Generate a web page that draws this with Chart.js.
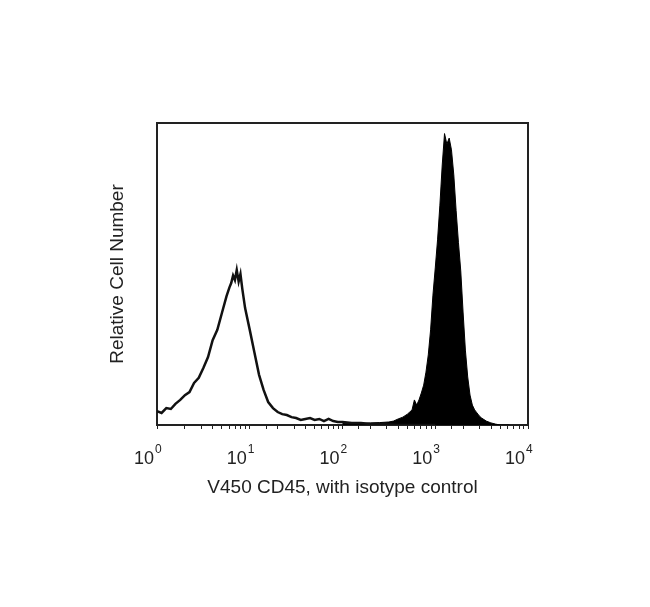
<!DOCTYPE html>
<html>
<head>
<meta charset="utf-8">
<script src="https://cdn.jsdelivr.net/npm/chart.js@4.4.1/dist/chart.umd.min.js"></script>
<style>
  html, body { margin: 0; padding: 0; background: #fff; }
  #wrap { width: 650px; height: 607px; position: relative; }
</style>
</head>
<body>
<div id="wrap"><canvas id="histChart"></canvas></div>
<script>
// isotype control (open histogram)
const isoChannel = [1.00, 1.12, 1.26, 1.41, 1.58, 1.78, 2.00, 2.24, 2.51, 2.82, 3.16, 3.55, 3.98, 4.47, 5.01, 5.62,
    6.03, 6.31, 6.61, 6.92, 7.24, 7.59, 7.94, 8.32, 8.91, 10.0, 11.2, 12.6, 14.1, 15.8, 17.8, 20.0, 22.4, 25.1,
    28.2, 31.6, 35.5, 39.8, 44.7, 50.1, 56.2, 63.1, 70.8, 79.4, 89.1, 100, 126, 158, 200, 251, 316, 398, 631, 1000];
const isoCount = [4.6, 4.0, 5.6, 5.3, 7.0, 8.3, 9.9, 10.9, 13.9, 15.6, 18.9, 22.5, 28.1, 31.5, 37.1, 42.7,
    45.5, 47.0, 49.5, 48.0, 51.3, 47.5, 50.0, 45.0, 38.7, 31.5, 24.2, 16.6, 11.6, 7.6, 5.6, 4.3, 3.6, 3.3,
    2.6, 2.3, 1.7, 2.0, 2.3, 1.7, 2.0, 1.3, 2.0, 1.3, 1.0, 1.0, 0.7, 0.7, 0.3, 0.3, 0.2, 0, 0, 0];

// V450 CD45 (filled histogram)
const cd45Channel = [100, 126, 158, 200, 251, 316, 355, 398, 447, 501, 531, 562, 596, 631, 668, 708, 750, 794,
    841, 891, 944, 1000, 1059, 1122, 1189, 1259, 1334, 1413, 1496, 1585, 1679, 1778, 1884, 1995, 2113, 2239,
    2371, 2512, 2661, 2818, 2985, 3162, 3548, 3981, 4467, 5012, 6310];
const cd45Count = [0.5, 0.6, 0.5, 0.7, 0.8, 1.0, 1.3, 2.0, 2.6, 3.6, 4.3, 5.0, 8.3, 6.6, 8.3, 10.6, 13.2, 17.5,
    23.2, 31.5, 43.0, 52.0, 61.3, 72.8, 86.1, 96.5, 93.0, 95.0, 91.1, 82.8, 71.0, 60.5, 51.0, 37.4, 24.8, 15.9,
    9.9, 6.6, 5.0, 4.0, 3.0, 2.3, 1.3, 0.7, 0.3, 0, 0];

const decades = [1, 10, 100, 1000, 10000];
const tickBase = '10';
const tickExponents = ['0', '1', '2', '3', '4'];

const xTitle = 'V450 CD45, with isotype control';
const yTitle = 'Relative Cell Number';

const font = "'Liberation Sans', Arial, Helvetica, sans-serif";
const ink = '#222';

function toPoints(xs, ys) {
    return xs.map((x, i) => ({ x: x, y: ys[i] }));
}

// draws the small raised exponent next to each "10" tick label
const exponentPlugin = {
    id: 'exponents',
    afterDraw(chart) {
        const sx = chart.scales.x;
        const c = chart.ctx;
        c.save();
        c.font = '18px ' + font;
        const baseW = c.measureText(tickBase).width;
        c.font = '12px ' + font;
        c.fillStyle = ink;
        c.textBaseline = 'middle';
        c.textAlign = 'left';
        decades.forEach((v, i) => {
            const px = sx.getPixelForValue(v) + sx.options.ticks.labelOffset + baseW / 2 + 1;
            c.fillText(tickExponents[i], px, 450);
        });
        c.restore();
    }
};

const ctx = document.getElementById('histChart').getContext('2d');

new Chart(ctx, {
    type: 'line',
    data: {
        datasets: [
            {
                label: 'Isotype control',
                data: toPoints(isoChannel, isoCount),
                borderColor: '#111',
                borderWidth: 2.5,
                pointRadius: 0,
                tension: 0,
                fill: false
            },
            {
                label: 'V450 CD45',
                data: toPoints(cd45Channel, cd45Count),
                borderColor: '#000',
                backgroundColor: '#000',
                borderWidth: 1,
                pointRadius: 0,
                tension: 0,
                fill: 'origin'
            }
        ]
    },
    options: {
        responsive: true,
        maintainAspectRatio: false,
        animation: false,
        layout: { padding: { top: 123, right: 122, bottom: 0, left: 0 } },
        plugins: {
            legend: { display: false },
            tooltip: { enabled: false }
        },
        scales: {
            x: {
                type: 'logarithmic',
                position: 'bottom',
                min: 1,
                max: 10000,
                afterFit: s => { s.height = 182; },
                border: { display: true, color: ink, width: 2 },
                grid: { drawOnChartArea: false, drawTicks: true, tickLength: 4, tickColor: ink },
                ticks: {
                    autoSkip: false,
                    maxRotation: 0,
                    padding: 19,
                    labelOffset: -13,
                    color: ink,
                    font: { family: font, size: 18 },
                    callback: function(value) {
                        return decades.indexOf(value) >= 0 ? tickBase : '';
                    }
                },
                title: {
                    display: true,
                    text: xTitle,
                    color: ink,
                    font: { family: font, size: 19 },
                    padding: { top: 0, bottom: 108 }
                }
            },
            y: {
                type: 'linear',
                position: 'left',
                min: 0,
                max: 100,
                afterFit: s => { s.width = 157; },
                border: { display: true, color: ink, width: 2 },
                grid: { display: false },
                ticks: { display: false },
                title: {
                    display: true,
                    text: yTitle,
                    color: ink,
                    font: { family: font, size: 19 },
                    padding: { top: 106, bottom: 0 }
                }
            },
            xTop: {
                type: 'linear',
                position: 'top',
                afterFit: s => { s.height = 0; },
                border: { display: true, color: ink, width: 2 },
                grid: { display: false },
                ticks: { display: false }
            },
            yRight: {
                type: 'linear',
                position: 'right',
                afterFit: s => { s.width = 0; },
                border: { display: true, color: ink, width: 2 },
                grid: { display: false },
                ticks: { display: false }
            }
        }
    },
    plugins: [exponentPlugin]
});
</script>
</body>
</html>
